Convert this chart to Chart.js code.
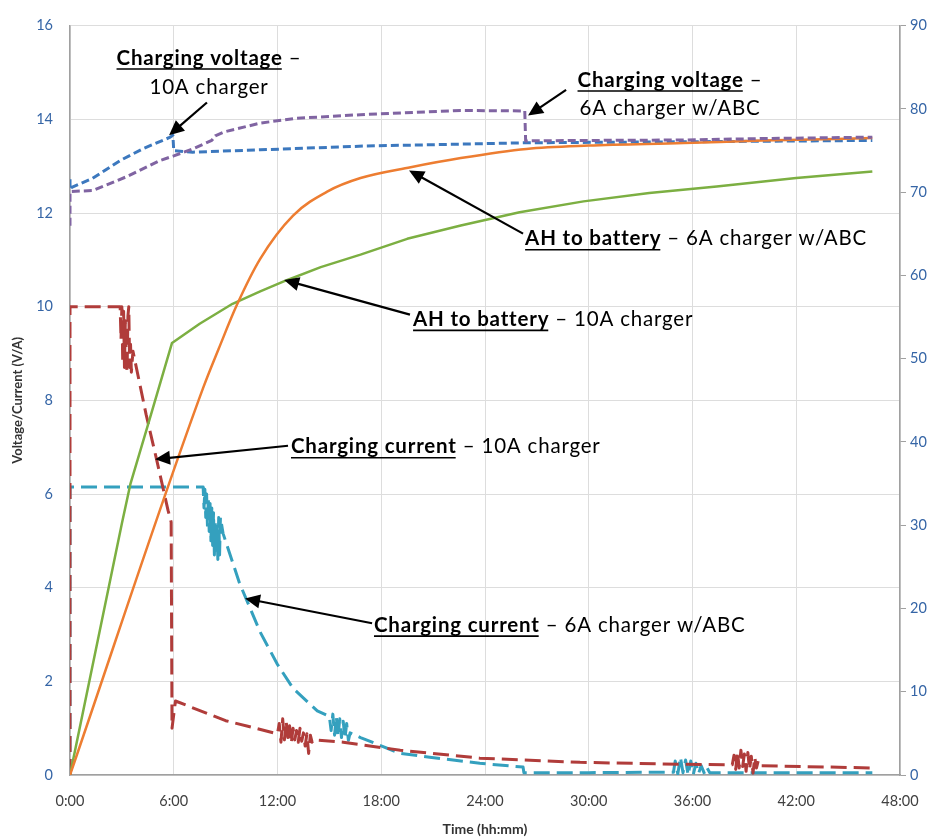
<!DOCTYPE html>
<html><head><meta charset="utf-8">
<script src="https://cdn.jsdelivr.net/npm/chart.js@4.4.0/dist/chart.umd.min.js"></script>
<style>html,body{margin:0;padding:0;background:#fff;}canvas{display:block}</style>
</head><body>
<canvas id="c" width="940" height="840"></canvas>
<script>
// ---- DATA (hours from start, volts / amps on left axis, amp-hours on right axis) ----
const voltage10AHours = [0, 0, 0.1, 1.3, 2.9, 4.2, 5.8, 5.95, 6.0, 7.1, 11, 17, 22.5, 26.3, 35, 46.4];
const voltage10AValues = [12.72, 12.5, 12.55, 12.74, 13.12, 13.37, 13.62, 13.66, 13.33, 13.3, 13.35, 13.43, 13.47, 13.5, 13.52, 13.55];

const voltage6AHours = [0, 0, 1.3, 3.3, 5.2, 6.0, 7.1, 8.2, 8.4, 8.9, 11, 13, 16.8, 22.6, 26.3, 26.35, 30, 35.5, 40, 46.4];
const voltage6AValues = [11.73, 12.46, 12.48, 12.78, 13.12, 13.22, 13.37, 13.55, 13.65, 13.73, 13.92, 14.02, 14.1, 14.19, 14.18, 13.54, 13.55, 13.56, 13.59, 13.62];

const ah6AHours = [0, 7.7, 8.6, 9.66, 11, 12.9, 14.9, 16.8, 19.7, 22.6, 26.4, 30, 35.5, 40, 46.4];
const ah6AValues = [0, 46.5, 51.2, 56.5, 62.0, 67.2, 70.1, 71.7, 73.0, 74.1, 75.2, 75.6, 75.9, 76.2, 76.5];

const ah10AHours = [0, 3.0, 3.5, 4.5, 5.9, 7.5, 9.4, 11, 12.5, 14.5, 16.8, 19.5, 22.6, 26, 29.7, 33.5, 37.4, 42, 46.4];
const ah10AValues = [0, 30.2, 35.0, 42.0, 51.9, 54.2, 56.6, 58.1, 59.4, 61.0, 62.5, 64.4, 66.0, 67.6, 68.9, 69.9, 70.7, 71.7, 72.5];

const current10AHours = [0, 0, 2.9, 2.95, 3.0, 3.05, 3.1, 3.15, 3.2, 3.25, 3.3, 3.35, 3.4, 3.45, 3.5, 3.55, 3.64, 4.4, 5.0, 5.67, 5.85, 5.9, 6.1, 9.0, 12.0,
  12.1, 12.2, 12.3, 12.4, 12.5, 12.6, 12.7, 12.8, 12.9, 13.0, 13.1, 13.2, 13.3, 13.4, 13.5, 13.6, 13.7, 13.8, 13.9, 14.0, 14.1, 15.8, 19.1, 23.7, 29.5, 35.3,
  38.3, 38.4, 38.5, 38.6, 38.7, 38.8, 38.9, 39.0, 39.1, 39.2, 39.3, 39.4, 39.5, 39.6, 39.7, 39.8, 39.9, 46.4];
const current10AValues = [0, 10, 10, 9.3, 10, 8.8, 9.9, 8.7, 9.7, 8.9, 8.6, 9.8, 10, 8.7, 9.2, 8.6, 9.05, 7.7, 6.75, 5.65, 5.4, 1.0, 1.58, 1.16, 0.88,
  1.1, 0.7, 1.2, 0.75, 1.15, 0.8, 1.05, 0.68, 1.0, 0.75, 0.95, 0.7, 1.0, 0.72, 0.9, 0.62, 0.88, 0.46, 0.85, 0.7, 0.75, 0.7, 0.53, 0.36, 0.27, 0.23,
  0.22, 0.42, 0.12, 0.5, 0.15, 0.53, 0.18, 0.45, 0.08, 0.48, 0.12, 0.4, 0.04, 0.38, 0.15, 0.3, 0.2, 0.15];

const current6AHours = [0, 0, 7.7, 7.75, 7.8, 7.85, 7.9, 7.95, 8.0, 8.05, 8.1, 8.15, 8.2, 8.25, 8.3, 8.35, 8.4, 8.45, 8.5, 8.55, 8.6, 8.65, 8.7, 8.85, 9.8, 10.2, 11.0, 12.0, 12.9, 14.3,
  15.0, 15.1, 15.2, 15.3, 15.4, 15.5, 15.6, 15.7, 15.8, 15.9, 16.0, 16.1, 16.2, 16.8, 19.1, 20.8, 23.7, 26.2, 26.25, 30, 34.9,
  35.0, 35.15, 35.3, 35.45, 35.6, 35.75, 35.9, 36.05, 36.2, 36.35, 36.5, 36.7, 36.85, 37, 46.4];
const current6AValues = [0, 6.15, 6.15, 5.7, 6.1, 5.5, 6.0, 5.3, 5.9, 5.2, 5.8, 5.0, 5.7, 4.9, 5.6, 4.7, 5.4, 4.8, 5.3, 4.6, 5.5, 4.7, 5.5, 5.16, 4.1, 3.75, 3.05, 2.36, 1.85, 1.37,
  1.25, 0.95, 1.3, 0.85, 1.25, 0.82, 1.2, 0.8, 1.15, 0.78, 1.1, 0.74, 0.9, 0.8, 0.46, 0.38, 0.25, 0.17, 0.05, 0.05, 0.06,
  0.3, 0.02, 0.38, 0.05, 0.32, 0.0, 0.3, 0.02, 0.25, 0.03, 0.2, 0.02, 0.15, 0.05, 0.05];

const timeTickStepHours = 6;
const leftAxisLabels = {min: 0, max: 16, step: 2, title: 'Voltage/Current (V/A)'};
const rightAxisLabels = {min: 0, max: 90, step: 10};
const xAxisTitle = 'Time (hh:mm)';

// Annotation texts, anchored in data units (hours, left-axis value)
const annotationTexts = [
  {lines: [[['Charging voltage', true], [' –', false]], [['10A charger', false]]], at: [8.04, 15.31, 14.69], align: 'center', arrow: [7.92, 14.36, 5.73, 13.66]},
  {lines: [[['Charging voltage', true], [' –', false]], [['6A charger w/ABC', false]]], at: [34.7, 14.84, 14.23], align: 'center', arrow: [28.69, 14.63, 26.49, 14.08]},
  {lines: [[['AH to battery', true], [' – 6A charger w/ABC', false]]], at: [26.32, 11.45], align: 'left', arrow: [26.2, 11.56, 19.61, 12.91]},
  {lines: [[['AH to battery', true], [' – 10A charger', false]]], at: [19.84, 9.73], align: 'left', arrow: [19.66, 9.83, 12.38, 10.57]},
  {lines: [[['Charging current', true], [' – 10A charger', false]]], at: [12.78, 7.01], align: 'left', arrow: [12.61, 7.03, 4.92, 6.74]},
  {lines: [[['Charging current', true], [' – 6A charger w/ABC', false]]], at: [17.58, 3.2], align: 'left', arrow: [17.47, 3.24, 10.12, 3.77]}
];

const pts = (hs, vs) => hs.map((h, i) => ({x: h, y: vs[i]}));

const annotationPlugin = {
  id: 'annotationPlugin',
  afterDatasetsDraw(chart) {
    const ctx = chart.ctx, xs = chart.scales.x, ys = chart.scales.y;
    const fs = 20.5, fam = 'Lato, "Open Sans", sans-serif';
    ctx.save();
    ctx.fillStyle = '#000'; ctx.strokeStyle = '#000';
    if ('letterSpacing' in ctx) ctx.letterSpacing = '0.8px';
    annotationTexts.forEach(a => {
      const x1 = xs.getPixelForValue(a.arrow[0]), y1 = ys.getPixelForValue(a.arrow[1]);
      const x2 = xs.getPixelForValue(a.arrow[2]), y2 = ys.getPixelForValue(a.arrow[3]);
      const ang = Math.atan2(y2 - y1, x2 - x1), hl = 15, hw = 7;
      ctx.lineWidth = 2.2;
      ctx.beginPath(); ctx.moveTo(x1, y1); ctx.lineTo(x2 - Math.cos(ang) * hl * 0.8, y2 - Math.sin(ang) * hl * 0.8); ctx.stroke();
      ctx.beginPath();
      ctx.moveTo(x2, y2);
      ctx.lineTo(x2 - Math.cos(ang) * hl - Math.sin(ang) * hw, y2 - Math.sin(ang) * hl + Math.cos(ang) * hw);
      ctx.lineTo(x2 - Math.cos(ang) * hl + Math.sin(ang) * hw, y2 - Math.sin(ang) * hl - Math.cos(ang) * hw);
      ctx.closePath(); ctx.fill();
      ctx.textBaseline = 'middle'; ctx.textAlign = 'left';
      a.lines.forEach((parts, li) => {
        const cy = ys.getPixelForValue(a.at[1 + li]);
        const widths = parts.map(p => { ctx.font = (p[1] ? 'bold ' : '') + fs + 'px ' + fam; return ctx.measureText(p[0]).width; });
        const total = widths.reduce((s, w) => s + w, 0);
        let cx = xs.getPixelForValue(a.at[0]);
        if (a.align === 'center') cx -= total / 2;
        parts.forEach((p, pi) => {
          ctx.font = (p[1] ? 'bold ' : '') + fs + 'px ' + fam;
          ctx.fillText(p[0], cx, cy);
          if (p[1]) {
            ctx.lineWidth = 1.6;
            ctx.beginPath(); ctx.moveTo(cx, cy + 11); ctx.lineTo(cx + widths[pi] - 1, cy + 11); ctx.stroke();
          }
          cx += widths[pi];
        });
      });
    });
    ctx.restore();
  }
};

const tickFont = {family: 'Lato, "Open Sans", sans-serif', size: 14.5};
const blueText = '#3565A6';

new Chart(document.getElementById('c'), {
  type: 'line',
  data: {
    datasets: [
      {label: 'Charging voltage – 6A charger w/ABC', data: pts(voltage6AHours, voltage6AValues), yAxisID: 'y', borderColor: '#8064A2', borderWidth: 3, borderDash: [8, 4], tension: 0},
      {label: 'AH to battery – 6A charger w/ABC', data: pts(ah6AHours, ah6AValues), yAxisID: 'y2', borderColor: '#ED7D31', borderWidth: 2.5, cubicInterpolationMode: 'monotone'},
      {label: 'Charging voltage – 10A charger', data: pts(voltage10AHours, voltage10AValues), yAxisID: 'y', borderColor: '#3C78BE', borderWidth: 3, borderDash: [8, 4], tension: 0},
      {label: 'AH to battery – 10A charger', data: pts(ah10AHours, ah10AValues), yAxisID: 'y2', borderColor: '#7CAF42', borderWidth: 2.5, tension: 0},
      {label: 'Charging current – 10A charger', data: pts(current10AHours, current10AValues), yAxisID: 'y', borderColor: '#B03C3A', borderWidth: 3, borderDash: [16, 7], tension: 0},
      {label: 'Charging current – 6A charger w/ABC', data: pts(current6AHours, current6AValues), yAxisID: 'y', borderColor: '#34A0BE', borderWidth: 3, borderDash: [16, 7], tension: 0}
    ]
  },
  options: {
    responsive: false, animation: false, devicePixelRatio: 1,
    layout: {padding: {top: 15, left: 0, right: 0, bottom: 0}},
    plugins: {legend: {display: false}, tooltip: {enabled: false}},
    elements: {point: {radius: 0}, line: {borderCapStyle: 'butt', borderJoinStyle: 'round'}},
    scales: {
      x: {
        type: 'linear', min: 0, max: 48,
        ticks: {stepSize: timeTickStepHours, autoSkip: false, maxRotation: 0, callback: v => v + ':00', color: '#404040', font: tickFont, padding: 18},
        grid: {color: '#DDDDDD', drawTicks: false},
        border: {color: '#A0A0A0', width: 1.5},
        title: {display: true, text: xAxisTitle, color: '#333', font: {family: 'Lato, sans-serif', size: 14, weight: 'bold'}, padding: {top: 0, bottom: 2}},
        afterFit: s => { s.height = 65; }
      },
      y: {
        position: 'left', min: leftAxisLabels.min, max: leftAxisLabels.max,
        ticks: {stepSize: leftAxisLabels.step, color: blueText, font: tickFont, padding: 17},
        grid: {color: '#DDDDDD', drawTicks: false},
        border: {color: '#A0A0A0', width: 1.5},
        title: {display: true, text: leftAxisLabels.title, color: '#333', font: {family: 'Lato, sans-serif', size: 13, weight: 'bold'}, padding: {top: 10, bottom: 0}},
        afterFit: s => { s.width = 70; }
      },
      y2: {
        position: 'right', min: rightAxisLabels.min, max: rightAxisLabels.max,
        ticks: {stepSize: rightAxisLabels.step, color: blueText, font: tickFont, padding: 4},
        grid: {drawOnChartArea: false, tickLength: 6, color: '#A0A0A0'},
        border: {color: '#A0A0A0', width: 1.5},
        afterFit: s => { s.width = 40; }
      }
    }
  },
  plugins: [annotationPlugin]
});
</script>
</body></html>
